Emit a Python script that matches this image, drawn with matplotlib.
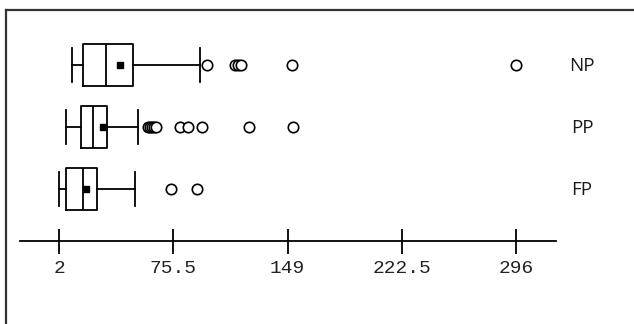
import matplotlib
matplotlib.use("Agg")
import matplotlib.pyplot as plt

# groups, top to bottom
groups = ["NP", "PP", "FP"]
whislo = [10.2, 6.5, 1.8]
q1 = [17.4, 16.3, 6.5]
med = [32.2, 23.7, 17.5]
mean = [41.2, 30.3, 19.6]
q3 = [49.6, 32.7, 26.2]
whishi = [92.7, 53.0, 50.9]
fliers = [
    [97.2, 115.5, 117.4, 119.3, 151.8, 295.9],
    [59.2, 60.5, 61.8, 63.0, 64.3, 80.0, 85.1, 93.8, 124.4, 152.7],
    [74.0, 90.9],
]
ticks = [2, 75.5, 149, 222.5, 296]
tick_labels = ["2", "75.5", "149", "222.5", "296"]

W, H = 634, 324
fig = plt.figure(figsize=(W / 100, H / 100), dpi=100)
ax = fig.add_axes([6 / W, 0, 1 - 6 / W, 1 - 10 / H])

# pixel -> data mapping
px = 114.25 / 73.5
x0 = 2 + (6 - 59) / px
x1 = 2 + (W - 59) / px
ax.set_xlim(x0, x1)
ax.set_ylim(3 - (H - 65) / 62, 3 + 55 / 62)

stats = []
for i in range(3):
    stats.append(dict(whislo=whislo[i], q1=q1[i], med=med[i], mean=mean[i],
                      q3=q3[i], whishi=whishi[i], fliers=fliers[i]))
pos = [3, 2, 1]
lw = 1.3
ax.bxp(stats, positions=pos, vert=False, widths=0.68, capwidths=0.56,
       showmeans=True, patch_artist=False,
       boxprops=dict(color="black", linewidth=lw),
       whiskerprops=dict(color="black", linewidth=lw),
       capprops=dict(color="black", linewidth=lw),
       medianprops=dict(color="black", linewidth=lw),
       meanprops=dict(marker="s", markerfacecolor="black",
                      markeredgecolor="black", markersize=4.8),
       flierprops=dict(marker="o", markerfacecolor="white",
                       markeredgecolor="black", markersize=7.5,
                       markeredgewidth=1.2))

for p, g in zip(pos, groups):
    ax.text(2 + (582 - 59) / px, p - 0.02, g, ha="center", va="center",
            fontsize=13.5, family="Open Sans", color="#1a1a1a")

# axis
ax.spines["right"].set_visible(False)
ax.spines["bottom"].set_position(("data", 3 - (241 - 65) / 62))
ax.spines["bottom"].set_bounds(2 + (20 - 59) / px, 2 + (556 - 59) / px)
ax.spines["bottom"].set_linewidth(1.3)
ax.spines["left"].set_linewidth(1.6)
ax.spines["top"].set_linewidth(1.6)
ax.spines["left"].set_color("#333333")
ax.spines["top"].set_color("#333333")
ax.set_xticks(ticks)
ax.set_xticklabels(tick_labels, family="Liberation Mono", fontsize=14,
                   color="#222222")
ax.tick_params(axis="x", direction="inout", length=18, width=1.3, pad=5)
ax.set_yticks([])

fig.savefig("out.png", dpi=100)
